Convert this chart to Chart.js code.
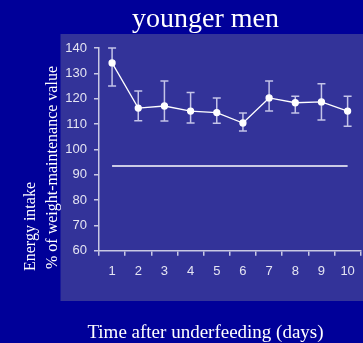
<!DOCTYPE html>
<html>
<head>
<meta charset="utf-8">
<script src="https://cdn.jsdelivr.net/npm/chart.js@4"></script>
<style>
    html, body { margin: 0; padding: 0; background: #000099; overflow: hidden; }
    #chart { display: block; }
</style>
</head>
<body>
<canvas id="chart" width="366" height="343"></canvas>
<script>
// Energy intake after underfeeding - younger men

const days = ['1', '2', '3', '4', '5', '6', '7', '8', '9', '10'];
const intake = [134.1, 116.3, 117.1, 115.1, 114.5, 110.4, 120.3, 118.4, 118.7, 115.1];
const intakeHigh = [140, 123, 127, 122.4, 120.3, 114.3, 127, 121, 125.9, 121];
const intakeLow = [125, 111.3, 111.2, 110.4, 110.3, 107.2, 115.1, 114.3, 111.6, 109.1];
const baseline = days.map(function() { return 93.4; });
const yTicks = [60, 70, 80, 90, 100, 110, 120, 130, 140];

const SERIF = "'Liberation Serif', 'Times New Roman', serif";
const SANS = "'Liberation Sans', Arial, sans-serif";
const TEXT = '#e4e4f2';
const AXIS = '#c8c8e4';

// Background, panel and captions
const decorPlugin = {
    id: 'decor',
    beforeDraw: function(chart) {
        const ctx = chart.ctx;
        ctx.save();
        ctx.fillStyle = '#000099';
        ctx.fillRect(0, 0, chart.width, chart.height);
        ctx.fillStyle = '#333399';
        ctx.fillRect(60.5, 34, chart.width - 60.5, 267);

        ctx.fillStyle = '#ffffff';
        ctx.textAlign = 'center';
        ctx.textBaseline = 'alphabetic';
        ctx.font = '28px ' + SERIF;
        ctx.fillText('younger men', 205.5, 27);

        ctx.font = '19px ' + SERIF;
        ctx.fillText('Time after underfeeding (days)', 205.5, 338);

        ctx.font = '16px ' + SERIF;
        ctx.textAlign = 'left';
        ctx.translate(35, 271);
        ctx.rotate(-Math.PI / 2);
        ctx.fillText('Energy intake', 0, 0);
        ctx.fillText('% of weight-maintenance value', 2, 22);
        ctx.restore();
    }
};

// Error bars with caps
const errorBarPlugin = {
    id: 'errorBars',
    beforeDatasetsDraw: function(chart) {
        const ctx = chart.ctx;
        const x = chart.scales.x;
        const y = chart.scales.y;
        ctx.save();
        ctx.strokeStyle = '#c4c4e8';
        ctx.lineWidth = 1.5;
        days.forEach(function(d, i) {
            const px = x.getPixelForValue(i);
            const top = y.getPixelForValue(intakeHigh[i]);
            const bot = y.getPixelForValue(intakeLow[i]);
            ctx.beginPath();
            ctx.moveTo(px, top);
            ctx.lineTo(px, bot);
            ctx.moveTo(px - 4, top);
            ctx.lineTo(px + 4, top);
            ctx.moveTo(px - 4, bot);
            ctx.lineTo(px + 4, bot);
            ctx.stroke();
        });
        ctx.restore();
    }
};

new Chart(document.getElementById('chart'), {
    type: 'line',
    data: {
        labels: days,
        datasets: [{
            label: 'Energy intake',
            data: intake,
            borderColor: '#ffffff',
            borderWidth: 1.3,
            pointBackgroundColor: '#ffffff',
            pointBorderColor: '#ffffff',
            pointRadius: 3,
            tension: 0
        }, {
            label: 'Weight maintenance',
            data: baseline,
            borderColor: '#ffffff',
            borderWidth: 1.5,
            pointRadius: 0
        }]
    },
    options: {
        responsive: false,
        animation: false,
        layout: {
            padding: { top: 48, left: 0, right: 0, bottom: 0 }
        },
        plugins: {
            legend: { display: false },
            tooltip: { enabled: false }
        },
        scales: {
            x: {
                offset: true,
                afterFit: function(scale) { scale.height = 92.3; },
                grid: {
                    offset: true,
                    drawOnChartArea: false,
                    drawTicks: true,
                    tickLength: 5,
                    color: AXIS,
                    lineWidth: 1.5
                },
                border: { display: true, color: AXIS, width: 1.5 },
                ticks: {
                    color: TEXT,
                    padding: 8,
                    font: { family: SANS, size: 13 },
                    maxRotation: 0
                }
            },
            y: {
                min: 60,
                max: 140,
                afterFit: function(scale) { scale.width = 99; },
                afterBuildTicks: function(scale) {
                    scale.ticks = yTicks.map(function(v) { return { value: v }; });
                },
                grid: {
                    drawOnChartArea: false,
                    drawTicks: true,
                    tickLength: 5,
                    color: AXIS,
                    lineWidth: 1.5
                },
                border: { display: true, color: AXIS, width: 1.5 },
                ticks: {
                    color: TEXT,
                    padding: 7,
                    font: { family: SANS, size: 13 }
                }
            }
        }
    },
    plugins: [decorPlugin, errorBarPlugin]
});
</script>
</body>
</html>
